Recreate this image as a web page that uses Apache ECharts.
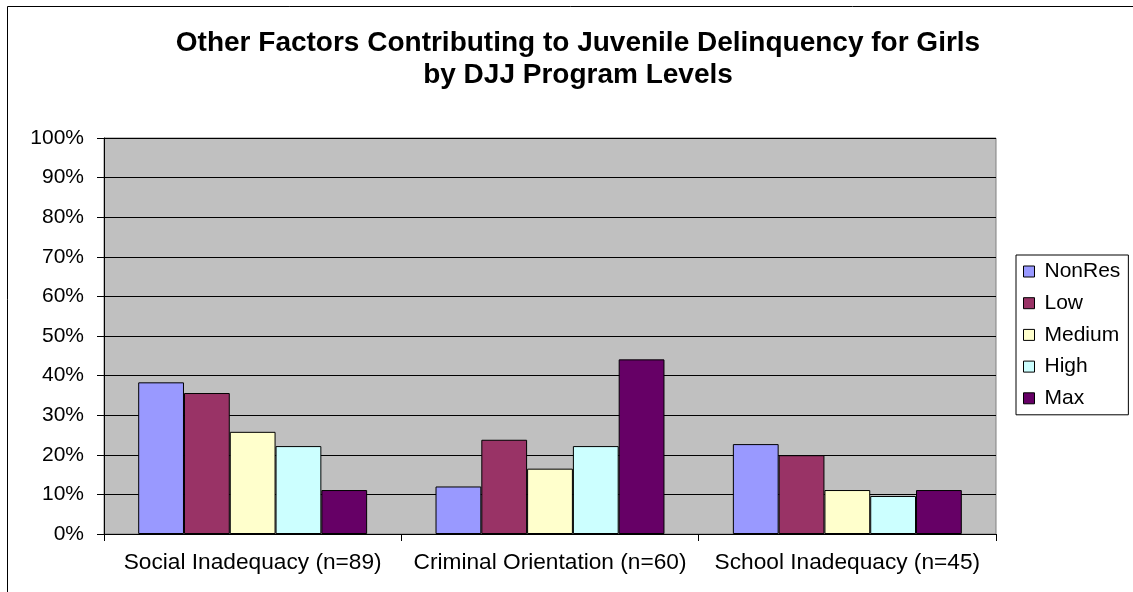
<!DOCTYPE html>
<html>
<head>
<meta charset="utf-8">
<script src="https://cdn.jsdelivr.net/npm/echarts@6/dist/echarts.min.js"></script>
<style>
html,body{margin:0;padding:0;background:#fff;}
#chart{width:1133px;height:592px;}
</style>
</head>
<body>
<div id="chart"></div>
<script>
const titleText = 'Other Factors Contributing to Juvenile Delinquency for Girls\nby DJJ Program Levels';
const categories = ['Social Inadequacy (n=89)', 'Criminal Orientation (n=60)', 'School Inadequacy (n=45)'];
const seriesNames = ['NonRes', 'Low', 'Medium', 'High', 'Max'];
const nonRes = [38.3, 12.0, 22.7];
const low = [35.6, 23.8, 19.9];
const medium = [25.8, 16.5, 11.1];
const high = [22.2, 22.2, 9.6];
const maxLvl = [11.1, 44.1, 11.1];
const seriesColors = ['#9999FF', '#993366', '#FFFFCC', '#CCFFFF', '#660066'];
const yTicks = [0, 10, 20, 30, 40, 50, 60, 70, 80, 90, 100];

const allValues = [nonRes, low, medium, high, maxLvl];
const FONT = '"Liberation Sans", Arial, sans-serif';

const chart = echarts.init(document.getElementById('chart'), null, {renderer: 'canvas'});
chart.setOption({
  animation: false,
  backgroundColor: '#ffffff',
  textStyle: {fontFamily: FONT},
  title: {
    text: titleText,
    left: 573,
    textAlign: 'center',
    top: 22,
    textStyle: {fontFamily: FONT, fontSize: 28, fontWeight: 'bold', color: '#000', lineHeight: 32}
  },
  graphic: [{
    type: 'rect',
    shape: {x: 7.5, y: 6.5, width: 1140, height: 600},
    style: {fill: 'none', stroke: '#000', lineWidth: 1},
    silent: true
  }],
  legend: {
    orient: 'vertical',
    left: 1016,
    top: 255,
    padding: [6, 8, 6, 7],
    itemWidth: 11,
    itemHeight: 11,
    itemGap: 10.7,
    backgroundColor: '#fff',
    borderColor: '#000',
    borderWidth: 1,
    borderRadius: 0,
    icon: 'rect',
    itemStyle: {borderColor: '#000', borderWidth: 1},
    textStyle: {fontFamily: FONT, fontSize: 21, color: '#000', lineHeight: 21, padding: [0, 0, 0, 5]},
    data: seriesNames
  },
  grid: {
    left: 104, right: 137, top: 138, bottom: 58,
    show: true, backgroundColor: '#C0C0C0', borderColor: '#808080', borderWidth: 1
  },
  xAxis: {
    type: 'category',
    data: categories,
    axisLine: {show: true, lineStyle: {color: '#000', width: 1}},
    axisTick: {show: true, alignWithLabel: false, length: 7, lineStyle: {color: '#000'}},
    axisLabel: {fontFamily: FONT, fontSize: 22.7, color: '#000', margin: 17, interval: 0},
    splitLine: {show: false}
  },
  yAxis: {
    type: 'value',
    min: yTicks[0],
    max: yTicks[yTicks.length - 1],
    interval: 10,
    axisLine: {show: true, lineStyle: {color: '#000', width: 1}},
    axisTick: {show: true, length: 7, lineStyle: {color: '#000'}},
    axisLabel: {fontFamily: FONT, fontSize: 21, color: '#000', margin: 20, formatter: '{value}%'},
    splitLine: {show: true, lineStyle: {color: '#000', width: 1}}
  },
  series: seriesNames.map((name, i) => ({
    name: name,
    type: 'bar',
    data: allValues[i],
    barGap: '0%',
    barCategoryGap: '23%',
    itemStyle: {color: seriesColors[i], borderColor: '#000', borderWidth: 1}
  }))
});
</script>
</body>
</html>
